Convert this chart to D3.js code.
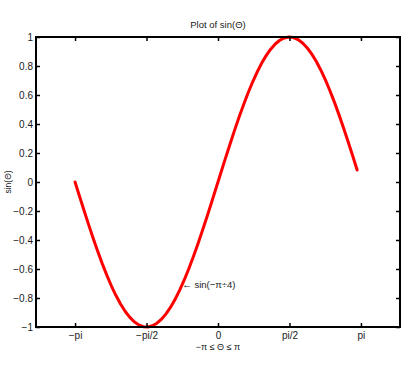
<!DOCTYPE html>
<html><head><meta charset="utf-8">
<script src="https://cdn.jsdelivr.net/npm/d3@7"></script>
<style>body{margin:0;background:#fff}svg{display:block}text{font-family:"Liberation Sans",Arial,sans-serif;fill:#1a1a1a}</style>
</head><body><svg id="c" width="412" height="368"></svg>
<script>
const thetaValues = [-3.142,-3.042,-2.942,-2.842,-2.742,-2.642,-2.542,-2.442,-2.342,-2.242,-2.142,-2.042,-1.942,-1.842,-1.742,-1.642,-1.542,-1.442,-1.342,-1.242,-1.142,-1.042,-0.942,-0.842,-0.742,-0.642,-0.542,-0.442,-0.342,-0.242,-0.142,-0.042,0.058,0.158,0.258,0.358,0.458,0.558,0.658,0.758,0.858,0.958,1.058,1.158,1.258,1.358,1.458,1.558,1.658,1.758,1.858,1.958,2.058,2.158,2.258,2.358,2.458,2.558,2.658,2.758,2.858,2.958,3.058];
const sinValues = [0,-0.0998,-0.1987,-0.2955,-0.3894,-0.4794,-0.5646,-0.6442,-0.7174,-0.7833,-0.8415,-0.8912,-0.9320,-0.9636,-0.9854,-0.9975,-0.9996,-0.9917,-0.9738,-0.9463,-0.9093,-0.8632,-0.8085,-0.7457,-0.6755,-0.5985,-0.5155,-0.4274,-0.3350,-0.2392,-0.1411,-0.0416,0.0584,0.1577,0.2555,0.3508,0.4425,0.5298,0.6119,0.6878,0.7568,0.8183,0.8716,0.9162,0.9516,0.9775,0.9937,0.9999,0.9962,0.9825,0.9589,0.9258,0.8835,0.8323,0.7728,0.7055,0.6313,0.5507,0.4646,0.3739,0.2794,0.1822,0.0831];
const xTickValues = [-Math.PI, -Math.PI/2, 0, Math.PI/2, Math.PI];
const xTickLabels = ["\u2212pi", "\u2212pi/2", "0", "pi/2", "pi"];
const yTickValues = [-1,-0.8,-0.6,-0.4,-0.2,0,0.2,0.4,0.6,0.8,1];
const yTickLabels = ["\u22121","\u22120.8","\u22120.6","\u22120.4","\u22120.2","0","0.2","0.4","0.6","0.8","1"];
const annotation = {theta: -Math.PI/4, value: -0.7071, text: "\u2190 sin(\u2212\u03c0\u00f74)"};

const svg = d3.select("#c");
const L=36, R=400, T=37, B=327;
const x = d3.scaleLinear().domain([-4,4]).range([L,R]);
const y = d3.scaleLinear().domain([-1,1]).range([B,T]);

const line = d3.line().x((d,i)=>x(thetaValues[i])).y(d=>y(d));
svg.append("path").datum(sinValues).attr("d",line).attr("fill","none")
  .attr("stroke","#f00").attr("stroke-width",3).attr("stroke-linejoin","round").attr("stroke-linecap","round");

const fmtX = (d,i)=>xTickLabels[i];
const fmtY = (d,i)=>yTickLabels[i];
const ax = (g)=>{g.select(".domain").remove(); g.selectAll("line").attr("stroke","#000").attr("stroke-width",1.5); g.selectAll("text").style("font-size","10px").attr("fill","#1a1a1a");};
svg.append("g").attr("transform",`translate(0,${B})`).call(d3.axisBottom(x).tickValues(xTickValues).tickFormat(fmtX).tickSize(-4).tickPadding(5)).call(ax);
svg.append("g").attr("transform",`translate(0,${T})`).call(d3.axisTop(x).tickValues(xTickValues).tickFormat("").tickSize(-4)).call(ax);
svg.append("g").attr("transform",`translate(${L},0)`).call(d3.axisLeft(y).tickValues(yTickValues).tickFormat(fmtY).tickSize(-4).tickPadding(3)).call(ax);
svg.append("g").attr("transform",`translate(${R},0)`).call(d3.axisRight(y).tickValues(yTickValues).tickFormat("").tickSize(-4)).call(ax);

svg.append("rect").attr("x",L).attr("y",T).attr("width",R-L).attr("height",B-T)
  .attr("fill","none").attr("stroke","#000").attr("stroke-width",2);

svg.append("text").attr("x",218).attr("y",28).attr("text-anchor","middle").style("font-size","9.5px").text("Plot of sin(\u0398)");
svg.append("text").attr("x",218).attr("y",350).attr("text-anchor","middle").style("font-size","9px").text("\u2212\u03c0 \u2264 \u0398 \u2264 \u03c0");
svg.append("text").attr("transform",`translate(11,182) rotate(-90)`).attr("text-anchor","middle").style("font-size","8.5px").text("sin(\u0398)");
svg.append("text").attr("x",x(annotation.theta)).attr("y",y(annotation.value)).attr("dy","0.35em").style("font-size","9.5px").text(annotation.text);
</script></body></html>
